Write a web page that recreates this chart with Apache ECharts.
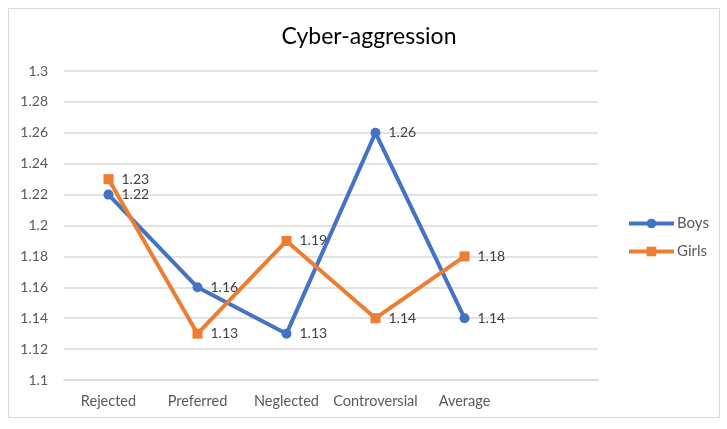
<!DOCTYPE html>
<html><head><meta charset="utf-8">
<script src="https://cdn.jsdelivr.net/npm/echarts@6/dist/echarts.min.js"></script>
<style>html,body{margin:0;padding:0;background:#fff}#c{width:727px;height:429px}</style>
</head><body><div id="c"></div>
<script>
const categories = ['Rejected','Preferred','Neglected','Controversial','Average',''];
const boys = [1.22,1.16,1.13,1.26,1.14,null];
const girls = [1.23,1.13,1.19,1.14,1.18,null];
const yMin = 1.1, yMax = 1.3, yStep = 0.02;
const FONT = 'Lato';
const chart = echarts.init(document.getElementById('c'));
const lbl = {show:true, position:'right', distance:8, color:'#404040', fontSize:14, fontFamily:FONT, formatter:p=>p.value==null?'':p.value.toFixed(2)};
chart.setOption({
  animation:false,
  textStyle:{fontFamily:FONT},
  graphic:[{type:'rect',shape:{x:8.5,y:8.5,width:711,height:409},style:{fill:'none',stroke:'#d9d9d9',lineWidth:1}}],
  title:{text:'Cyber-aggression',left:364,textAlign:'center',top:20,textStyle:{fontSize:23,fontWeight:'normal',color:'#000',fontFamily:FONT}},
  legend:{orient:'vertical',left:622,top:211,itemWidth:45,itemHeight:12,itemGap:13,lineStyle:{width:4},textStyle:{color:'#595959',fontSize:15,fontFamily:FONT,padding:[0,0,0,-2]},data:['Boys','Girls']},
  grid:{left:64,right:129,top:71,bottom:49},
  xAxis:{type:'category',data:categories,boundaryGap:true,axisLine:{lineStyle:{color:'#d9d9d9',width:1.5}},axisTick:{show:false},axisLabel:{interval:0,color:'#595959',fontSize:14.5,margin:14,fontFamily:FONT}},
  yAxis:{type:'value',min:yMin,max:yMax,interval:yStep,axisLine:{show:false},axisTick:{show:false},splitLine:{lineStyle:{color:'#d9d9d9',width:1.5}},axisLabel:{color:'#595959',fontSize:14,margin:16,fontFamily:FONT,formatter:v=>String(parseFloat(v.toFixed(2)))}},
  series:[
    {name:'Boys',type:'line',data:boys,symbol:'circle',symbolSize:10,itemStyle:{color:'#4472C4'},lineStyle:{width:4,color:'#4472C4'},label:lbl,z:2},
    {name:'Girls',type:'line',data:girls,symbol:'rect',symbolSize:10,itemStyle:{color:'#ED7D31'},lineStyle:{width:4,color:'#ED7D31'},label:lbl,z:3}
  ]
});
</script></body></html>
